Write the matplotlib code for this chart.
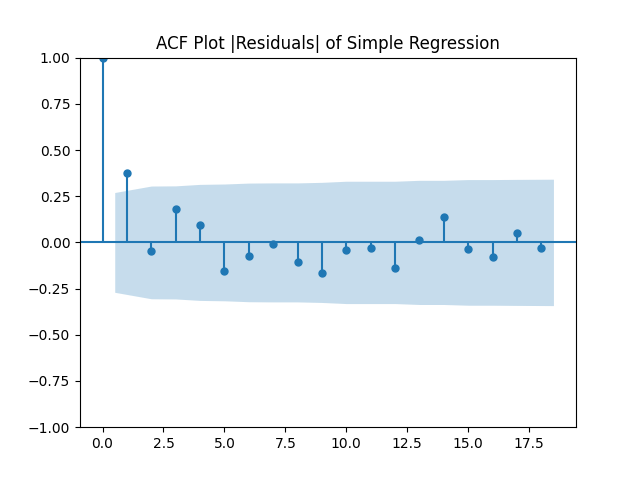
import numpy as np
import matplotlib
matplotlib.use("Agg")
import matplotlib.pyplot as plt

# autocorrelation values, lags 0..18
lags = np.arange(19)
acf_vals = [1.0, 0.373, -0.045, 0.183, 0.096, -0.153, -0.072, -0.007, -0.105,
            -0.165, -0.040, -0.029, -0.138, 0.015, 0.140, -0.034, -0.078,
            0.049, -0.029]
# half width of the confidence band, lags 1..18
band = [0.270, 0.305, 0.306, 0.314, 0.316, 0.321, 0.322, 0.322, 0.325,
        0.331, 0.331, 0.331, 0.336, 0.336, 0.340, 0.340, 0.341, 0.342]

fig, ax = plt.subplots(figsize=(6.4, 4.8), dpi=100)

ax.vlines(lags, [0], acf_vals, colors="C0", linewidth=1.5)
ax.axhline(0, color="C0", linewidth=1.5)
ax.plot(lags, acf_vals, marker="o", markersize=5, linestyle="None", color="C0")

# band x positions, ends pushed out by half a lag like statsmodels does
band_x = lags[1:].astype(float)
band_x[0] -= 0.5
band_x[-1] += 0.5
band = np.array(band)
ax.fill_between(band_x, -band, band, color="C0", alpha=0.25, linewidth=0)

ax.margins(0.05)
ax.set_ylim(-1, 1)
ax.set_title("ACF Plot |Residuals| of Simple Regression")

plt.savefig("out.png")
